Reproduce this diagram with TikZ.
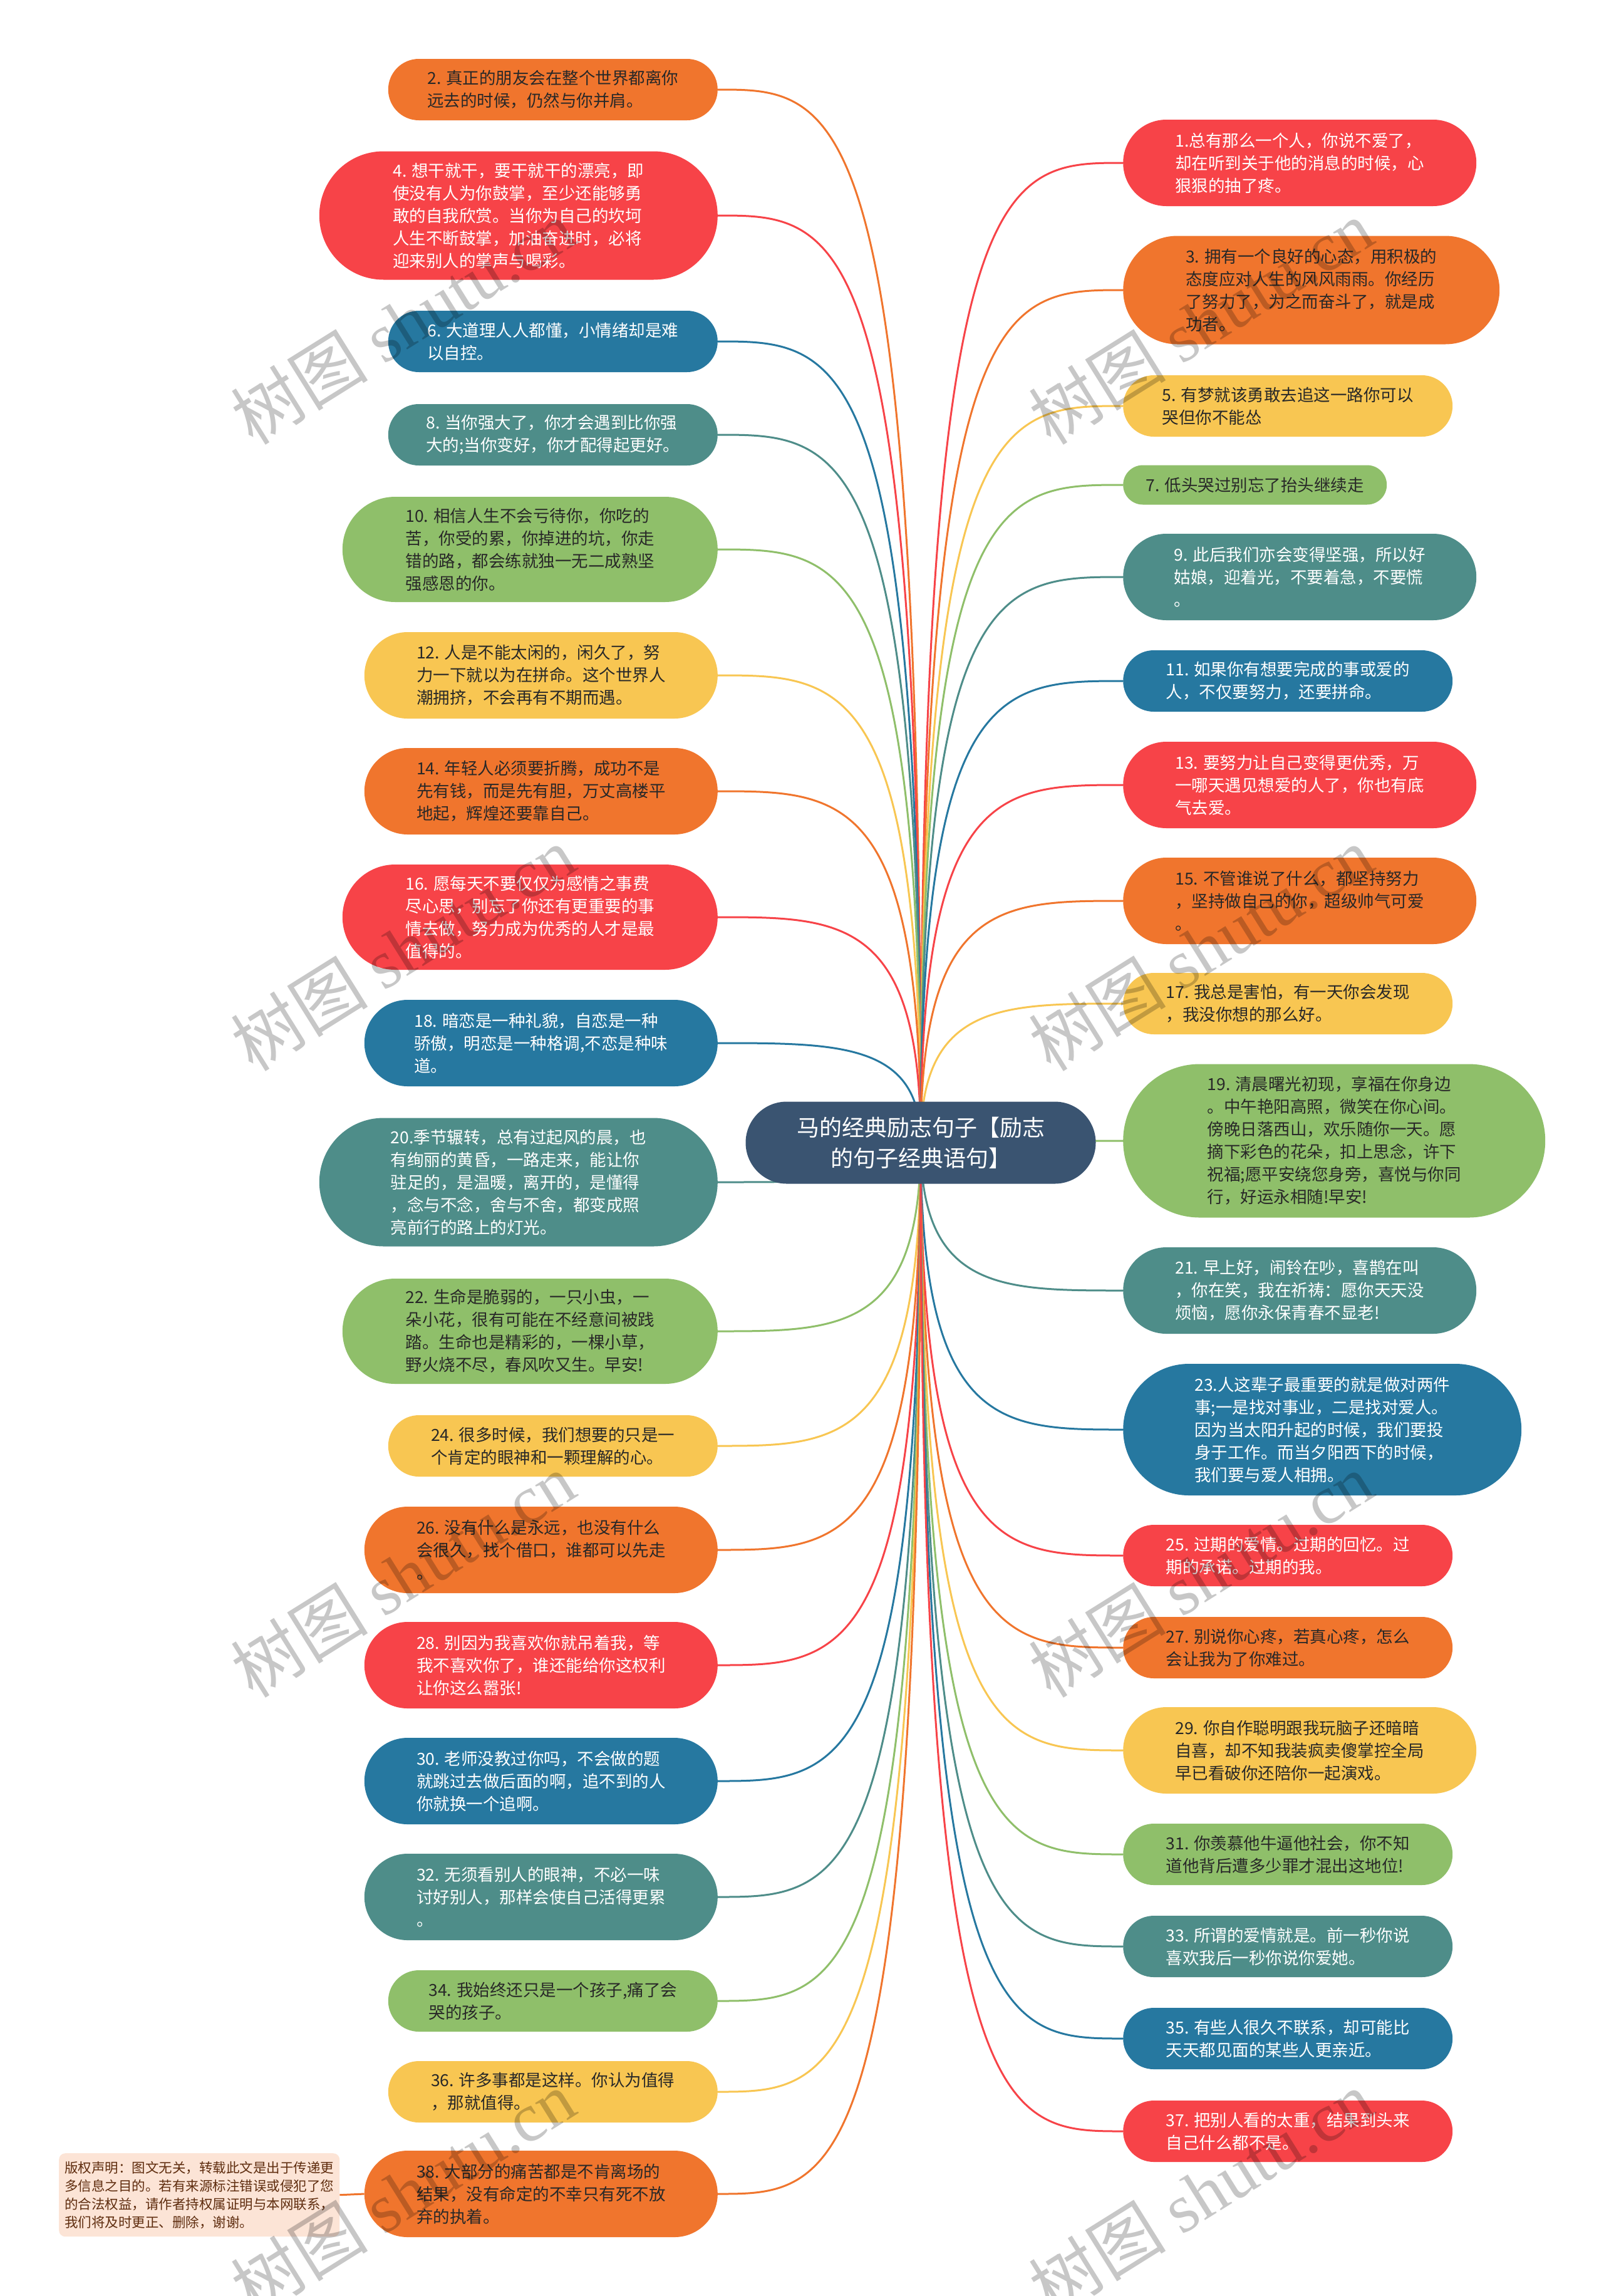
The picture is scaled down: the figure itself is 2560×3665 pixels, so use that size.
\documentclass[tikz,border=0pt]{standalone}
\usepackage{fontspec}
\setmainfont{Noto Sans CJK SC}
\newfontfamily\wmlatin{Liberation Serif}
\usetikzlibrary{calc,backgrounds}
\definecolor{cRed}{RGB}{247,67,72}
\definecolor{cOrange}{RGB}{240,117,45}
\definecolor{cBlue}{RGB}{38,120,160}
\definecolor{cTeal}{RGB}{78,141,137}
\definecolor{cGreen}{RGB}{143,191,106}
\definecolor{cYellow}{RGB}{248,198,82}
\definecolor{cRoot}{RGB}{58,84,113}
\definecolor{cDark}{RGB}{40,40,40}
\definecolor{cCopy}{RGB}{252,228,214}
\definecolor{cCopyText}{RGB}{95,45,15}
\tikzset{
  box/.style={inner sep=0pt, align=left, font=\fontsize{26.5}{36}\selectfont},
  sz/.style 2 args={minimum width=#1pt, minimum height=#2pt, rounded corners=#2*0.5pt},
  Lb/.style={anchor=east},
  Rb/.style={anchor=west},
  rbox/.style={box, fill=cRed, text=white},
  obox/.style={box, fill=cOrange, text=cDark},
  bbox/.style={box, fill=cBlue, text=white},
  tbox/.style={box, fill=cTeal, text=white},
  gbox/.style={box, fill=cGreen, text=cDark},
  ybox/.style={box, fill=cYellow, text=cDark},
  lnk/.style={line width=3pt},
  wm/.style={text=black, opacity=0.22, font=\fontsize{110}{110}\selectfont, rotate=32, inner sep=0pt},
}
\newcommand\myedgeL[2]{\draw[lnk,#1] (root.center) .. controls (root.center |- #2.east) and ($(root.center |- #2.east)!0.4!(#2.east)$) .. (#2.east);}
\newcommand\myedgeR[2]{\draw[lnk,#1] (root.center) .. controls (root.center |- #2.west) and ($(root.center |- #2.west)!0.4!(#2.west)$) .. (#2.west);}
\begin{document}
\begin{tikzpicture}[x=1pt,y=-1pt]
\useasboundingbox (0,0) rectangle (2560,3665);

% root
\node[inner sep=0pt, align=center, fill=cRoot, text=white, minimum width=559pt, minimum height=131pt, rounded corners=65.5pt, font=\fontsize{36}{49}\selectfont] (root) at (1470,1824) {马的经典励志句子【励志\\的句子经典语句】};

% left column
\node[obox, sz={526}{98}, Lb] (n2) at (1146,143) {2. 真正的朋友会在整个世界都离你\\远去的时候，仍然与你并肩。};
\node[rbox, sz={636}{205}, Lb] (n4) at (1146,344) {4. 想干就干，要干就干的漂亮，即\\使没有人为你鼓掌，至少还能够勇\\敢的自我欣赏。当你为自己的坎坷\\人生不断鼓掌，加油奋进时，必将\\迎来别人的掌声与喝彩。};
\node[bbox, sz={526}{98}, Lb] (n6) at (1146,545) {6. 大道理人人都懂，小情绪却是难\\以自控。};
\node[tbox, sz={526}{98}, Lb] (n8) at (1146,694) {8. 当你强大了，你才会遇到比你强\\大的;当你变好，你才配得起更好。};
\node[gbox, sz={599}{168}, Lb] (n10) at (1146,877) {10. 相信人生不会亏待你，你吃的\\苦，你受的累，你掉进的坑，你走\\错的路，都会练就独一无二成熟坚\\强感恩的你。};
\node[ybox, sz={564}{138}, Lb] (n12) at (1146,1078) {12. 人是不能太闲的，闲久了，努\\力一下就以为在拼命。这个世界人\\潮拥挤，不会再有不期而遇。};
\node[obox, sz={564}{138}, Lb] (n14) at (1146,1263) {14. 年轻人必须要折腾，成功不是\\先有钱，而是先有胆，万丈高楼平\\地起，辉煌还要靠自己。};
\node[rbox, sz={599}{168}, Lb] (n16) at (1146,1464) {16. 愿每天不要仅仅为感情之事费\\尽心思，别忘了你还有更重要的事\\情去做，努力成为优秀的人才是最\\值得的。};
\node[bbox, sz={564}{138}, Lb] (n18) at (1146,1665) {18. 暗恋是一种礼貌，自恋是一种\\骄傲，明恋是一种格调,不恋是种味\\道。};
\node[tbox, sz={636}{205}, Lb] (n20) at (1146,1887) {20.季节辗转，总有过起风的晨，也\\有绚丽的黄昏，一路走来，能让你\\驻足的，是温暖，离开的，是懂得\\，念与不念，舍与不舍，都变成照\\亮前行的路上的灯光。};
\node[gbox, sz={599}{168}, Lb] (n22) at (1146,2125) {22. 生命是脆弱的，一只小虫，一\\朵小花，很有可能在不经意间被践\\踏。生命也是精彩的，一棵小草，\\野火烧不尽，春风吹又生。早安!};
\node[ybox, sz={526}{98}, Lb] (n24) at (1146,2308) {24. 很多时候，我们想要的只是一\\个肯定的眼神和一颗理解的心。};
\node[obox, sz={564}{138}, Lb] (n26) at (1146,2474) {26. 没有什么是永远，也没有什么\\会很久，找个借口，谁都可以先走\\。};
\node[rbox, sz={564}{138}, Lb] (n28) at (1146,2658) {28. 别因为我喜欢你就吊着我，等\\我不喜欢你了，谁还能给你这权利\\让你这么嚣张!};
\node[bbox, sz={564}{138}, Lb] (n30) at (1146,2843) {30. 老师没教过你吗，不会做的题\\就跳过去做后面的啊，追不到的人\\你就换一个追啊。};
\node[tbox, sz={564}{138}, Lb] (n32) at (1146,3028) {32. 无须看别人的眼神，不必一味\\讨好别人，那样会使自己活得更累\\。};
\node[gbox, sz={526}{98}, Lb] (n34) at (1146,3194) {34. 我始终还只是一个孩子,痛了会\\哭的孩子。};
\node[ybox, sz={526}{98}, Lb] (n36) at (1146,3339) {36. 许多事都是这样。你认为值得\\，那就值得。};
\node[obox, sz={564}{138}, Lb] (n38) at (1146,3502) {38. 大部分的痛苦都是不肯离场的\\结果，没有命定的不幸只有死不放\\弃的执着。};

% right column
\node[rbox, sz={564}{138}, Rb] (n1) at (1793,260) {1.总有那么一个人，你说不爱了，\\却在听到关于他的消息的时候，心\\狠狠的抽了疼。};
\node[obox, sz={601}{173}, Rb] (n3) at (1793,463) {3. 拥有一个良好的心态，用积极的\\态度应对人生的风风雨雨。你经历\\了努力了，为之而奋斗了，就是成\\功者。};
\node[ybox, sz={526}{98}, Rb] (n5) at (1793,648) {5. 有梦就该勇敢去追这一路你可以\\哭但你不能怂};
\node[gbox, sz={421}{63}, Rb] (n7) at (1793,774) {7. 低头哭过别忘了抬头继续走};
\node[tbox, sz={564}{138}, Rb] (n9) at (1793,921) {9. 此后我们亦会变得坚强，所以好\\姑娘，迎着光，不要着急，不要慌\\。};
\node[bbox, sz={526}{98}, Rb] (n11) at (1793,1087) {11. 如果你有想要完成的事或爱的\\人，不仅要努力，还要拼命。};
\node[rbox, sz={564}{138}, Rb] (n13) at (1793,1253) {13. 要努力让自己变得更优秀，万\\一哪天遇见想爱的人了，你也有底\\气去爱。};
\node[obox, sz={564}{138}, Rb] (n15) at (1793,1438) {15. 不管谁说了什么，都坚持努力\\，坚持做自己的你，超级帅气可爱\\。};
\node[ybox, sz={526}{98}, Rb] (n17) at (1793,1602) {17. 我总是害怕，有一天你会发现\\，我没你想的那么好。};
\node[gbox, sz={674}{245}, Rb] (n19) at (1793,1821) {19. 清晨曙光初现，享福在你身边\\。中午艳阳高照，微笑在你心间。\\傍晚日落西山，欢乐随你一天。愿\\摘下彩色的花朵，扣上思念，许下\\祝福;愿平安绕您身旁，喜悦与你同\\行，好运永相随!早安!};
\node[tbox, sz={564}{138}, Rb] (n21) at (1793,2060) {21. 早上好，闹铃在吵，喜鹊在叫\\，你在笑，我在祈祷：愿你天天没\\烦恼，愿你永保青春不显老!};
\node[bbox, sz={636}{210}, Rb] (n23) at (1793,2282) {23.人这辈子最重要的就是做对两件\\事;一是找对事业，二是找对爱人。\\因为当太阳升起的时候，我们要投\\身于工作。而当夕阳西下的时候，\\我们要与爱人相拥。};
\node[rbox, sz={526}{98}, Rb] (n25) at (1793,2483) {25. 过期的爱情。过期的回忆。过\\期的承诺。过期的我。};
\node[obox, sz={526}{98}, Rb] (n27) at (1793,2630) {27. 别说你心疼，若真心疼，怎么\\会让我为了你难过。};
\node[ybox, sz={564}{138}, Rb] (n29) at (1793,2794) {29. 你自作聪明跟我玩脑子还暗暗\\自喜，却不知我装疯卖傻掌控全局\\早已看破你还陪你一起演戏。};
\node[gbox, sz={526}{98}, Rb] (n31) at (1793,2960) {31. 你羡慕他牛逼他社会，你不知\\道他背后遭多少罪才混出这地位!};
\node[tbox, sz={526}{98}, Rb] (n33) at (1793,3107) {33. 所谓的爱情就是。前一秒你说\\喜欢我后一秒你说你爱她。};
\node[bbox, sz={526}{98}, Rb] (n35) at (1793,3254) {35. 有些人很久不联系，却可能比\\天天都见面的某些人更亲近。};
\node[rbox, sz={526}{98}, Rb] (n37) at (1793,3402) {37. 把别人看的太重，结果到头来\\自己什么都不是。};

% copyright note
\node[anchor=north west, fill=cCopy, text=cCopyText, rounded corners=10pt, inner xsep=8pt, inner ysep=8pt, minimum width=448pt, minimum height=133pt, align=left, font=\fontsize{21.5}{29}\selectfont] (copy) at (94,3437) {版权声明：图文无关，转载此文是出于传递更\\多信息之目的。若有来源标注错误或侵犯了您\\的合法权益，请作者持权属证明与本网联系，\\我们将及时更正、删除，谢谢。};

% connectors
\begin{scope}[on background layer]
\fill[white] (0,0) rectangle (2560,3665);
\myedgeL{cOrange}{n2}
\myedgeL{cRed}{n4}
\myedgeL{cBlue}{n6}
\myedgeL{cTeal}{n8}
\myedgeL{cGreen}{n10}
\myedgeL{cYellow}{n12}
\myedgeL{cOrange}{n14}
\myedgeL{cRed}{n16}
\myedgeL{cBlue}{n18}
\myedgeL{cTeal}{n20}
\myedgeL{cGreen}{n22}
\myedgeL{cYellow}{n24}
\myedgeL{cOrange}{n26}
\myedgeL{cRed}{n28}
\myedgeL{cBlue}{n30}
\myedgeL{cTeal}{n32}
\myedgeL{cGreen}{n34}
\myedgeL{cYellow}{n36}
\myedgeL{cOrange}{n38}
\myedgeR{cRed}{n1}
\myedgeR{cOrange}{n3}
\myedgeR{cYellow}{n5}
\myedgeR{cGreen}{n7}
\myedgeR{cTeal}{n9}
\myedgeR{cBlue}{n11}
\myedgeR{cRed}{n13}
\myedgeR{cOrange}{n15}
\myedgeR{cYellow}{n17}
\myedgeR{cGreen}{n19}
\myedgeR{cTeal}{n21}
\myedgeR{cBlue}{n23}
\myedgeR{cRed}{n25}
\myedgeR{cOrange}{n27}
\myedgeR{cYellow}{n29}
\myedgeR{cGreen}{n31}
\myedgeR{cTeal}{n33}
\myedgeR{cBlue}{n35}
\myedgeR{cRed}{n37}
\draw[lnk, cOrange] (copy.east) -- (n38.west);
\end{scope}

% watermarks
\node[wm] (w1) at (643,514) {树图 {\wmlatin shutu.cn}};
\node[wm] (w2) at (1917,514) {树图 {\wmlatin shutu.cn}};
\node[wm] (w3) at (643,1514) {树图 {\wmlatin shutu.cn}};
\node[wm] (w4) at (1917,1514) {树图 {\wmlatin shutu.cn}};
\node[wm] (w5) at (643,2514) {树图 {\wmlatin shutu.cn}};
\node[wm] (w6) at (1917,2514) {树图 {\wmlatin shutu.cn}};
\node[wm] (w7) at (643,3500) {树图 {\wmlatin shutu.cn}};
\node[wm] (w8) at (1917,3500) {树图 {\wmlatin shutu.cn}};
\end{tikzpicture}
\end{document}
